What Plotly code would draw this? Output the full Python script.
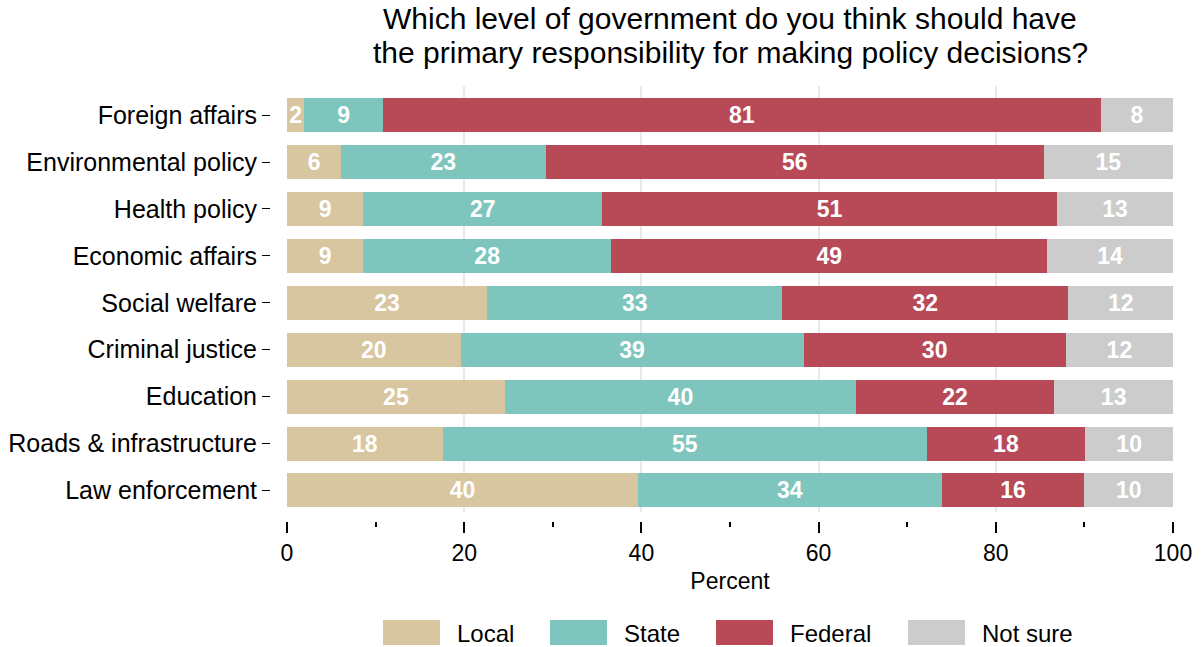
import plotly.graph_objects as go

categories = ["Foreign affairs", "Environmental policy", "Health policy", "Economic affairs",
              "Social welfare", "Criminal justice", "Education", "Roads & infrastructure",
              "Law enforcement"]
local = [1.95, 6.1, 8.6, 8.6, 22.6, 19.6, 24.6, 17.6, 39.6]
state = [8.9, 23.1, 27.0, 28.0, 33.3, 38.7, 39.6, 54.6, 34.3]
federal = [81.0, 56.2, 51.3, 49.2, 32.3, 29.6, 22.4, 17.9, 16.1]
not_sure = [8.15, 14.6, 13.1, 14.2, 11.8, 12.1, 13.4, 9.9, 10.0]

series_names = ["Local", "State", "Federal", "Not sure"]
series_values = [local, state, federal, not_sure]
colors = ["#D8C6A0", "#7EC5BD", "#B84A58", "#CCCCCC"]
x_ticks = [0, 20, 40, 60, 80, 100]
title_lines = ["Which level of government do you think should have",
               "the primary responsibility for making policy decisions?"]

FONT = "Liberation Sans, Arial, Helvetica, sans-serif"
W, H = 1201, 647
R_MARGIN = 28
PW = W - R_MARGIN  # paper width in px


def px(x):
    return x / PW


def py(y):
    return 1 - y / H


fig = go.Figure()
for name, vals, col in zip(series_names, series_values, colors):
    fig.add_trace(go.Bar(
        y=categories, x=vals, name=name, orientation="h",
        marker=dict(color=col, line=dict(width=0)),
        texttemplate="%{x:.0f}", textposition="inside", insidetextanchor="middle",
        textangle=0,
        textfont=dict(family=FONT, size=23, color="white", weight="bold"),
        showlegend=False, hoverinfo="x+y+name",
    ))

fig.update_layout(
    barmode="stack", bargap=0.275,
    width=W, height=H,
    margin=dict(l=0, r=R_MARGIN, t=0, b=0),
    paper_bgcolor="white", plot_bgcolor="white",
    font=dict(family=FONT, color="black"),
    uniformtext=dict(mode="show", minsize=23),
    xaxis=dict(
        domain=[px(287), 1], range=[0, 100], tickvals=x_ticks,
        anchor="free", position=py(521),
        showline=False, zeroline=False,
        showgrid=True, gridcolor="#E8E8E8", gridwidth=1.5,
        ticks="outside", ticklen=11, tickwidth=1.5, tickcolor="black",
        minor=dict(ticks="outside", ticklen=5, tickwidth=1.5, tickcolor="black",
                   dtick=10, tick0=0, showgrid=False),
        tickfont=dict(size=23, family=FONT),
        title=dict(text="Percent", font=dict(size=23, family=FONT), standoff=8),
        automargin=False,
    ),
    yaxis=dict(
        domain=[py(512), py(86)],
        type="category", categoryorder="array", categoryarray=categories,
        range=[8.46, -0.62],
        anchor="free", position=px(270),
        showline=False, showgrid=False, zeroline=False,
        ticks="outside", ticklen=8, tickwidth=1.2, tickcolor="black",
        tickfont=dict(size=25, family=FONT),
        automargin=False,
    ),
)

for i, line in enumerate(title_lines):
    fig.add_annotation(
        text=line,
        xref="paper", yref="paper", x=px(730), y=py(1 + 34 * i),
        xanchor="center", yanchor="top",
        showarrow=False, align="center", borderpad=0,
        font=dict(size=30, family=FONT, color="black"),
    )

# legend swatches and labels
sw_x = [383, 550, 716, 908]
for name, col, x0 in zip(series_names, colors, sw_x):
    fig.add_shape(type="rect", xref="paper", yref="paper",
                  x0=px(x0), x1=px(x0 + 57), y0=py(645), y1=py(620),
                  fillcolor=col, line=dict(width=0))
    fig.add_annotation(text=name, xref="paper", yref="paper",
                       x=px(x0 + 72), y=py(633), xanchor="left", yanchor="middle",
                       showarrow=False, font=dict(size=24, family=FONT, color="black"))

fig.write_html("out.html")
